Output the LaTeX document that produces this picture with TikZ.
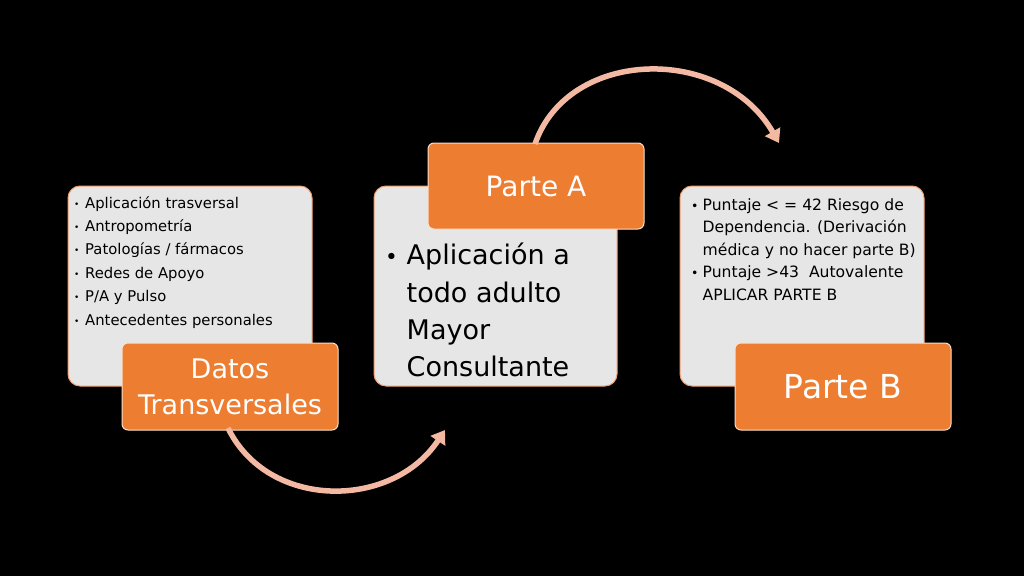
\documentclass[tikz,border=0pt]{standalone}
\usepackage{fontspec}
\setmainfont{DejaVu Sans}
\usetikzlibrary{arrows.meta}
\definecolor{orng}{HTML}{ED7D31}
\definecolor{boxgray}{HTML}{E7E6E6}
\definecolor{arrowc}{HTML}{F4B9A3}
\definecolor{edgeor}{HTML}{F0A070}
\tikzset{
  graybox/.style={rounded corners=12pt, fill=boxgray, draw=edgeor, line width=1pt, minimum width=244pt, minimum height=200pt, inner sep=0pt},
  orangebox/.style={rounded corners=6pt, fill=orng, draw=white!75!orng, line width=1pt, minimum width=216pt, minimum height=87pt, inner sep=0pt, text=white, align=center},
  bodytext/.style={anchor=north west, inner sep=0pt, align=left, text=black},
  flowarrow/.style={draw=arrowc, line width=5.5pt, -{Triangle[length=13pt,width=17pt]}}
}
\newcommand{\smallbul}{\makebox[11pt][l]{\raisebox{1pt}{\scalebox{0.6}{•}}}}
\newcommand{\midbul}{\makebox[11.5pt][l]{\scalebox{0.8}{•}}}
\newcommand{\bigbul}{\makebox[21.5pt][l]{\scalebox{0.8}{•}}}
\begin{document}
\begin{tikzpicture}[x=1pt,y=-1pt]
\fill[black] (0,0) rectangle (1024,576);
\useasboundingbox (0,0) rectangle (1024,576);
% left
\node[graybox] (g1) at (190,286) {};
\node[bodytext, font=\fontsize{14.8}{23.4}\selectfont] (t1) at (74,196) {%
\smallbul Aplicación trasversal\\
\smallbul Antropometría\\
\smallbul Patologías / fármacos\\
\smallbul Redes de Apoyo\\
\smallbul P/A y Pulso\\
\smallbul Antecedentes personales};
\node[orangebox, font=\fontsize{27}{36}\selectfont] (o1) at (230,386.5) {Datos\\Transversales};
% middle
\node[graybox, minimum width=243pt] (g2) at (495.5,286) {};
\node[bodytext, font=\fontsize{27}{37.3}\selectfont] (t2) at (385,243) {%
\bigbul Aplicación a\\
\hspace*{21.5pt}todo adulto\\
\hspace*{21.5pt}Mayor\\
\hspace*{21.5pt}Consultante};
\node[orangebox, minimum height=86pt, font=\fontsize{28}{30}\selectfont] (o2) at (536,186) {Parte A};
% right
\node[graybox] (g3) at (802,286) {};
\node[bodytext, font=\fontsize{15.6}{22.5}\selectfont] (t3) at (691,198) {%
\midbul Puntaje < = 42 Riesgo de\\
\hspace*{11.5pt}Dependencia. (Derivación\\
\hspace*{11.5pt}médica y no hacer parte B)\\
\midbul Puntaje >43\ \ Autovalente\\
\hspace*{11.5pt}APLICAR PARTE B};
\node[orangebox, font=\fontsize{33}{36}\selectfont] (o3) at (843,386.5) {Parte B};
% arrows
\coordinate (a1s) at (228,428);
\coordinate (a1e) at (445,430);
\coordinate (a2s) at (535,144);
\coordinate (a2e) at (779,143);
\draw[flowarrow] (a1s) .. controls (268,510) and (392,510) .. (a1e);
\draw[flowarrow] (a2s) .. controls (568,48) and (722,44) .. (a2e);
\end{tikzpicture}
\end{document}
